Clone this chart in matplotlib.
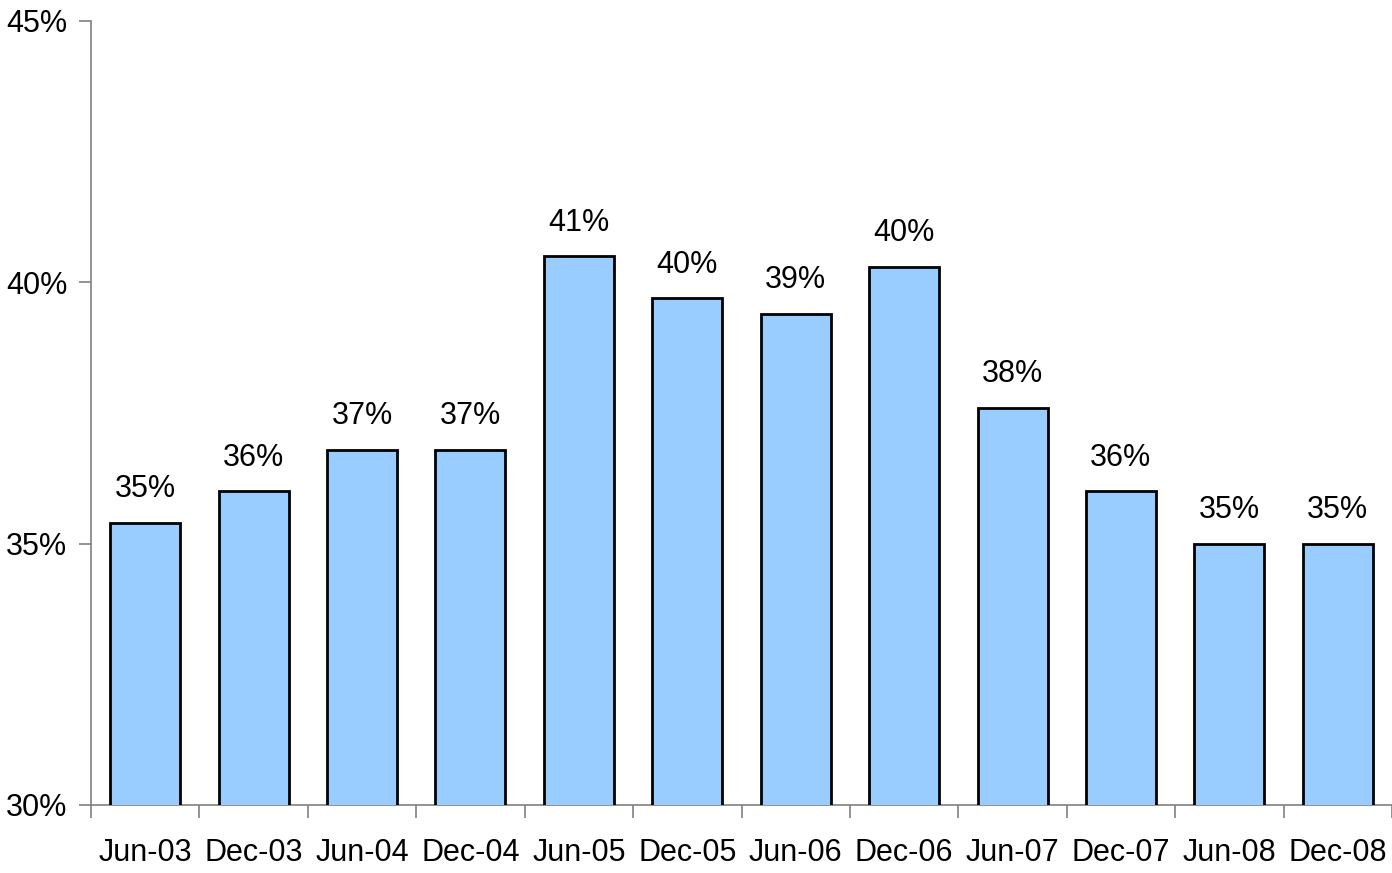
import matplotlib.pyplot as plt
import numpy as np
from matplotlib.ticker import FixedLocator, FuncFormatter

# Half-yearly share, in percent
periods = ["Jun-03", "Dec-03", "Jun-04", "Dec-04", "Jun-05", "Dec-05",
           "Jun-06", "Dec-06", "Jun-07", "Dec-07", "Jun-08", "Dec-08"]
share = [35.4, 36.0, 36.8, 36.8, 40.5, 39.7, 39.4, 40.3, 37.6, 36.0, 35.0, 35.0]

plt.rcParams["font.family"] = ["Liberation Sans", "DejaVu Sans"]
plt.rcParams["font.size"] = 22


def pct(v, pos=None):
    # round half up, the way a spreadsheet would
    return f"{int(v + 0.5)}%"


fig = plt.figure(figsize=(13.92, 8.73), dpi=100)
ax = fig.add_axes([91 / 1392, 1 - 805 / 873, 1 - 91 / 1392, (805 - 21) / 873])

x = np.arange(len(periods))
ax.bar(x, share, width=0.645, color="#99CCFF", edgecolor="black", linewidth=2, zorder=3)

for xi, v in zip(x, share):
    ax.annotate(pct(v), (xi, v), xytext=(0, 24), textcoords="offset points",
                ha="center", va="center", fontsize=22)

ax.set_xlim(-0.5, len(periods) - 0.5)
ax.set_ylim(30, 45)
ax.set_yticks([30, 35, 40, 45])
ax.yaxis.set_major_formatter(FuncFormatter(pct))

ax.set_xticks(x)
ax.set_xticklabels(periods)
ax.xaxis.set_minor_locator(FixedLocator(np.arange(-0.5, len(periods), 1.0)))
ax.tick_params(axis="x", which="major", length=0, pad=24)
ax.tick_params(axis="x", which="minor", length=9, width=1.2, color="#808080")
ax.tick_params(axis="y", length=9, width=1.2, color="#808080", pad=8)

for side in ("top", "right"):
    ax.spines[side].set_visible(False)
for side in ("left", "bottom"):
    ax.spines[side].set_color("#808080")
    ax.spines[side].set_linewidth(1.2)

fig.savefig("out.png", dpi=100)
